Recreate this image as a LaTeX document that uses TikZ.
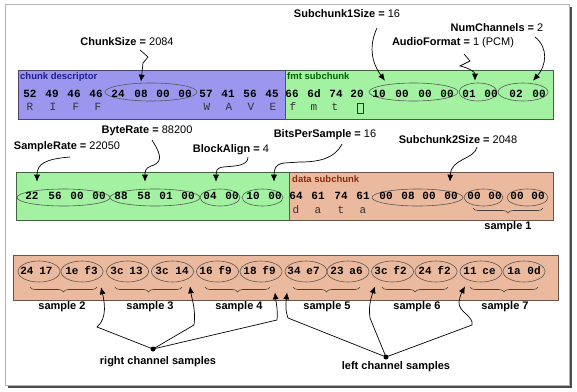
\documentclass[tikz,border=0pt]{standalone}
\usepackage{fontspec}
\setmainfont{Liberation Sans}
\newfontfamily\bytefont{Liberation Mono}
\usetikzlibrary{shapes.geometric,decorations.pathreplacing,arrows.meta,calc}
\definecolor{purp}{HTML}{9C96EE}
\definecolor{grn}{HTML}{A2F2A2}
\definecolor{peach}{HTML}{EBB99D}
\definecolor{dblue}{HTML}{1E1E8C}
\definecolor{dgreen}{HTML}{006000}
\definecolor{dbrown}{HTML}{8B2A0A}
\tikzset{
  byte/.style={font=\bytefont\bfseries\fontsize{11}{11}\selectfont, inner sep=0pt, anchor=mid},
  ltr/.style={font=\bytefont\fontsize{11}{11}\selectfont, text=black!80, inner sep=0pt, anchor=mid},
  fld/.style={font=\bfseries\fontsize{11}{11}\selectfont, inner sep=0pt, anchor=mid},
  sec/.style={font=\bfseries\fontsize{9.5}{9.5}\selectfont, inner sep=0pt, anchor=mid west},
  ell/.style={ellipse, draw=black!65, line width=0.6pt, inner sep=0pt},
  arr/.style={-{Latex[length=7pt,width=6pt]}, line width=0.7pt},
  brc/.style={decorate, decoration={brace, mirror, amplitude=5pt}, line width=0.6pt, draw=black!75},
  smp/.style={font=\bfseries\fontsize{11}{11}\selectfont, inner sep=0pt, anchor=mid},
  dot/.style={circle, fill=black, inner sep=0pt, minimum size=5pt}
}
\begin{document}
\begin{tikzpicture}[x=1pt,y=-1pt]
\useasboundingbox (0,0) rectangle (577,391);
% frame
\fill[black!70] (8,7) rectangle (572,388);
\draw[black!30, fill=white] (5,4) rectangle (569,385);

% boxes
\draw[fill=purp, draw=purp!45!black, line width=0.8pt] (18,70) rectangle (285,119);
\draw[fill=grn, draw=grn!40!black, line width=0.8pt] (285,70) rectangle (553,119);
\draw[fill=grn, draw=grn!40!black, line width=0.8pt] (16,172) rectangle (289,220);
\draw[fill=peach, draw=peach!45!black, line width=0.8pt] (289,172) rectangle (553,220);
\draw[fill=peach, draw=peach!45!black, line width=0.8pt] (13,255) rectangle (558,300);

\node[sec, text=dblue] (scd) at (20,77) {chunk descriptor};
\node[sec, text=dgreen] (sfmt) at (287,77) {fmt subchunk};
\node[sec, text=dbrown] (sdata) at (292,180) {data subchunk};

% ellipses row 1
\node[ell, minimum width=92pt, minimum height=18pt] (cs) at (151,92) {};
\node[ell, minimum width=89pt, minimum height=18pt] (s1) at (413.5,92) {};
\node[ell, minimum width=38pt, minimum height=18pt] (af) at (478,92) {};
\node[ell, minimum width=50pt, minimum height=18pt] (nc) at (523,92) {};
% ellipses row 2
\node[ell, minimum width=93pt, minimum height=17pt] (sr) at (63.5,197.5) {};
\node[ell, minimum width=90pt, minimum height=17pt] (br) at (155,197.5) {};
\node[ell, minimum width=40pt, minimum height=17pt] (ba) at (220,197.5) {};
\node[ell, minimum width=41pt, minimum height=17pt] (bps) at (262.5,197.5) {};
\node[ell, minimum width=91pt, minimum height=17pt] (s2) at (417.5,197.5) {};
\node[ell, minimum width=39pt, minimum height=17pt] (sa) at (483.5,197.5) {};
\node[ell, minimum width=41pt, minimum height=17pt] (sb) at (527.5,197.5) {};
% ellipses row 3
\foreach \x [count=\i] in {39,82,127.5,172.5,217.5,261,306,348,392.5,436,481,524}
  \node[ell, minimum width=42pt, minimum height=21pt] (e\i) at (\x,271.5) {};

% bytes row 1
\foreach \v/\x [count=\i] in {52/30,49/52,46/74,46/96,24/118,08/141,00/163,00/185,57/206,41/228,56/250,45/272}
  \node[byte] (a\i) at (\x,95) {\v};
\foreach \v/\x [count=\i] in {R/30,I/53,F/76,F/98,W/207,A/229,V/251,E/273}
  \node[ltr] (al\i) at (\x,108) {\v};
\foreach \v/\x [count=\i] in {66/292,6d/314,74/336,20/357,10/379,00/402,00/425,00/447,01/469,00/491,02/516,00/539}
  \node[byte] (b\i) at (\x,95) {\v};
\foreach \v/\x [count=\i] in {f/293,m/314,t/335}
  \node[ltr] (bl\i) at (\x,108) {\v};
\draw[black!80, line width=0.6pt] (357,103) rectangle (363,113);

% bytes row 2
\foreach \v/\x [count=\i] in {22/32,56/55,00/77,00/99,88/121,58/144,01/166,00/188,04/210,00/232,10/253,00/275}
  \node[byte] (c\i) at (\x,197) {\v};
\foreach \v/\x [count=\i] in {64/296,61/318,74/341,61/363,00/386,08/408,00/429,00/451,00/474,00/495,00/517,00/538}
  \node[byte] (d\i) at (\x,197) {\v};
\foreach \v/\x [count=\i] in {d/296,a/318,t/341,a/363}
  \node[ltr] (dl\i) at (\x,211) {\v};
\draw[brc] (473,208) -- (543,208);
\node[smp] (sm1) at (508,227) {sample 1};

% bytes row 3
\foreach \v/\x [count=\i] in {24/27,17/46,1e/72,f3/91,3c/117,13/136,3c/162,14/182,16/206,f9/225,18/250,f9/269,34/294,e7/313,23/337,a6/356,3c/381,f2/400,24/425,f2/444,11/470,ce/489,1a/514,0d/534}
  \node[byte] (f\i) at (\x,272) {\v};
\draw[brc] (30,287) -- (97,287);
\draw[brc] (115,287) -- (182,287);
\draw[brc] (205,287) -- (270,287);
\draw[brc] (293,287) -- (360,287);
\draw[brc] (382,287) -- (448,287);
\draw[brc] (470,287) -- (538,287);
\foreach \t/\x [count=\i] in {2/62,3/150,4/239,5/327,6/417,7/505}
  \node[smp] (sm\t) at (\x,307) {sample \t};

% field labels
\node[fld] (lcs) at (127,43) {ChunkSize = {\mdseries 2084}};
\node[fld] (ls1) at (347,15) {Subchunk1Size = {\mdseries 16}};
\node[fld] (lnc) at (497,29) {NumChannels = {\mdseries 2}};
\node[fld] (laf) at (453,43) {AudioFormat = {\mdseries 1 (PCM)}};
\node[fld] (lbr) at (147,131) {ByteRate = {\mdseries 88200}};
\node[fld] (lsr) at (67,147) {SampleRate = {\mdseries 22050}};
\node[fld] (lba) at (231,150) {BlockAlign = {\mdseries 4}};
\node[fld] (lbps) at (325,135) {BitsPerSample = {\mdseries 16}};
\node[fld] (ls2) at (458,141) {Subchunk2Size = {\mdseries 2048}};

% field arrows
\draw[arr] ($(lcs.mid)+(13,7)$) -- (148,57) -- (143,63) -- ($(cs.north)+(-10,-1)$);
\draw[arr] ($(ls1.mid)+(30,13)$) .. controls (369,45) and (371,62) .. ($(s1.north)+(-28.5,-2)$);
\draw[arr] ($(lnc.mid)+(38,8)$) .. controls (549,48) and (546,66) .. ($(nc.north)+(10,-2)$);
\draw[arr] ($(laf.mid)+(11,11)$) -- (470,61) -- (460,66) .. controls (469,68) and (475,72) .. ($(af.north)+(-3,-2)$);
\draw[arr] ($(lsr.mid)+(3,10)$) .. controls (45,159) and (37,164) .. ($(sr.north)+(-26.5,-7)$);
\draw[arr] ($(lbr.mid)+(5,9)$) .. controls (158,150) and (166,162) .. (151,166) .. controls (145,168) and (145,172) .. ($(br.north)+(-10,-7)$);
\draw[arr] ($(lba.mid)+(17,7)$) .. controls (248,166) and (235,166) .. (223,167) .. controls (216,168) and (216,172) .. ($(ba.north)+(-4,-7)$);
\draw[arr] ($(lbps.mid)+(17,9)$) .. controls (335,158) and (320,162) .. (300,162) -- (284,163) .. controls (275,164) and (274,170) .. ($(bps.north)+(11.5,-7)$);
\draw[arr] ($(ls2.mid)+(19,6)$) .. controls (474,160) and (451,158) .. ($(s2.north)+(32.5,-7)$);

% channel samples
\node[dot] (rdot) at (153,349) {};
\node[fld] (rtxt) at (158,362) {right channel samples};
\node[dot] (ldot) at (386,357) {};
\node[fld] (ltxt) at (396,367) {left channel samples};
\draw[arr] (rdot.center) -- (97,327) .. controls (108,318) and (104,300) .. ($(e2.south)+(19,5)$);
\draw[arr] (rdot.center) -- (194,325) .. controls (196,310) and (192,300) .. ($(e4.south)+(17.5,4)$);
\draw[arr] (rdot.center) -- (277,320) .. controls (278,310) and (276,302) .. ($(e6.south)+(14,10)$);
\draw[arr] (ldot.center) -- (288,318) .. controls (285,310) and (286,302) .. ($(e7.south)+(-19,10)$);
\draw[arr] (ldot.center) -- (370,318) .. controls (368,305) and (372,295) .. ($(e9.south)+(-17.5,4)$);
\draw[arr] (ldot.center) -- (472,325) .. controls (474,316) and (458,312) .. (459,302) .. controls (460,295) and (463,290) .. ($(e11.south)+(-16,4)$);
\end{tikzpicture}
\end{document}
